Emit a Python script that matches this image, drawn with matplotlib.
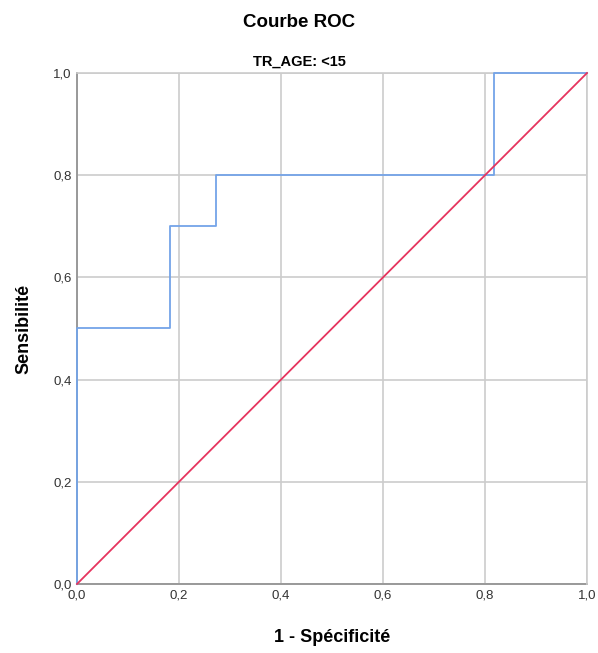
import matplotlib
matplotlib.use("Agg")
import matplotlib.pyplot as plt
from matplotlib.ticker import FuncFormatter

plt.rcParams['font.family'] = ['Liberation Sans', 'DejaVu Sans']

# points de la courbe ROC (1 - specificite, sensibilite)
fpr = [0.0, 0.0, 2/11, 2/11, 3/11, 3/11, 9/11, 9/11, 1.0]
tpr = [0.0, 0.5, 0.5, 0.7, 0.7, 0.8, 0.8, 1.0, 1.0]
ref = [0.0, 1.0]
ticks = [0.0, 0.2, 0.4, 0.6, 0.8, 1.0]

fig = plt.figure(figsize=(5.98, 6.53), dpi=100)
ax = fig.add_axes([0.1288, 0.1057, 0.8528, 0.7825])

ax.plot(fpr, tpr, color='#74a4e8', linewidth=1.3, zorder=3, clip_on=False)
ax.plot(ref, ref, color='#e6345e', linewidth=1.3, zorder=4, clip_on=False)

ax.set_xlim(0, 1)
ax.set_ylim(0, 1)
ax.set_xticks(ticks)
ax.set_yticks(ticks)
fmt = FuncFormatter(lambda v, p: ('%.1f' % v).replace('.', ','))
ax.xaxis.set_major_formatter(fmt)
ax.yaxis.set_major_formatter(fmt)
ax.tick_params(length=0, labelsize=9.5, colors='#333333', pad=4)
ax.grid(True, color='#cccccc', linewidth=1.2)
ax.set_axisbelow(True)
for s in ['top', 'right']:
    ax.spines[s].set_color('#cccccc')
    ax.spines[s].set_linewidth(1.2)
for s in ['left', 'bottom']:
    ax.spines[s].set_color('#999999')
    ax.spines[s].set_linewidth(1.4)
    ax.spines[s].set_zorder(2)

ax.set_xlabel('1 - Spécificité', fontsize=13, fontweight='bold', labelpad=20)
ax.set_ylabel('Sensibilité', fontsize=13, fontweight='bold', labelpad=15)

fig.text(0.5, 0.966, 'Courbe ROC', ha='center', va='center', fontsize=13.5, fontweight='bold')
fig.text(0.5, 0.906, 'TR_AGE: <15', ha='center', va='center', fontsize=10.5, fontweight='bold')

fig.savefig('out.png', dpi=100)
